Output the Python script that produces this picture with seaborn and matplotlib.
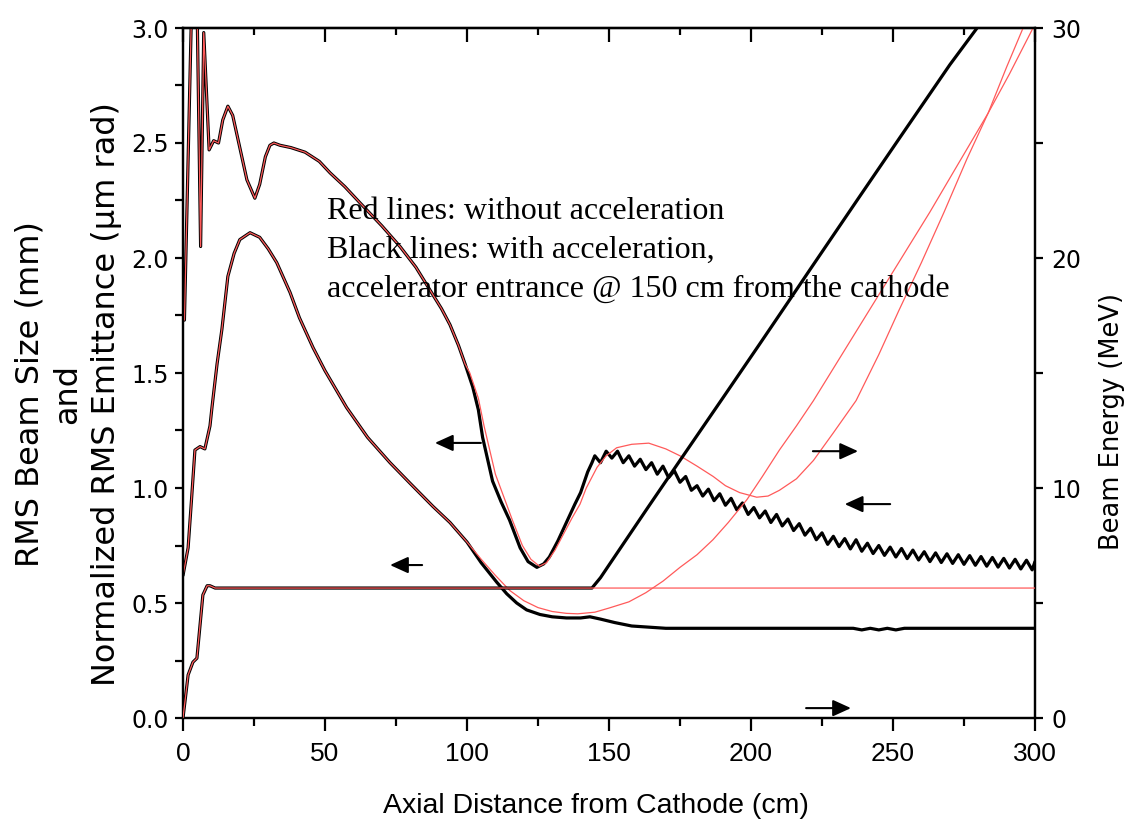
import numpy as np
import pandas as pd
import matplotlib
matplotlib.use("Agg")
import matplotlib.pyplot as plt
from matplotlib.ticker import MultipleLocator, FormatStrFormatter
import seaborn as sns

# ---------------- data ----------------
# shared early part of the emittance (identical with / without acceleration)
em0_x = [0.5, 3.6, 4.6, 6.2, 7.3, 9.2, 10.8, 12.5, 14.0, 15.8, 17.5, 20.0, 22.5,
         25.3, 27.0, 29.0, 30.6, 32.0, 34.2, 38.0, 43.0, 48.0, 51.8, 57.0, 62.3,
         70.0, 76.4, 82.0, 87.0, 91.0, 94.0, 97.0, 99.3]
em0_y = [1.73, 3.4, 3.4, 2.05, 2.98, 2.47, 2.51, 2.50, 2.60, 2.66, 2.62, 2.48, 2.34,
         2.26, 2.32, 2.44, 2.49, 2.50, 2.49, 2.48, 2.46, 2.42, 2.37, 2.31, 2.24,
         2.14, 2.05, 1.96, 1.86, 1.78, 1.71, 1.62, 1.54]

# emittance with acceleration (black)
em_acc_x = [102, 104, 105.5, 109, 112, 115, 118.7, 121.5, 124.6, 127, 129, 132, 135,
            138, 140, 142.5, 144,
            145, 147, 149, 151, 153, 155, 157, 159, 161, 163, 165, 167, 169, 171,
            173, 175, 177, 179, 181, 183, 185, 187, 189, 191, 193, 195, 197, 199,
            201, 203, 205, 207, 209, 211, 213, 215, 217, 219, 221, 223, 225, 227,
            229, 231, 233, 235, 237, 239, 241, 243, 245, 247, 249, 251, 253, 255,
            257, 259, 261, 263, 265, 267, 269, 271, 273, 275, 277, 279, 281, 283,
            285, 287, 289, 291, 293, 295, 297, 299, 300]
em_acc_y = [1.44, 1.34, 1.22, 1.03, 0.94, 0.86, 0.74, 0.68, 0.655, 0.67, 0.70, 0.77, 0.85,
            0.93, 0.98, 1.07, 1.11,
            1.14, 1.11, 1.16, 1.13, 1.16, 1.11, 1.14, 1.095, 1.125, 1.08, 1.11, 1.06,
            1.095, 1.045, 1.075, 1.025, 1.05, 0.99, 1.01, 0.965, 0.995, 0.945, 0.975,
            0.925, 0.955, 0.905, 0.935, 0.885, 0.915, 0.87, 0.90, 0.85, 0.885, 0.835,
            0.865, 0.815, 0.845, 0.795, 0.825, 0.775, 0.805, 0.755, 0.79, 0.745, 0.78,
            0.735, 0.775, 0.725, 0.76, 0.715, 0.75, 0.707, 0.743, 0.70, 0.737, 0.693,
            0.73, 0.687, 0.723, 0.68, 0.718, 0.676, 0.714, 0.672, 0.71, 0.668, 0.706,
            0.664, 0.702, 0.66, 0.698, 0.656, 0.694, 0.652, 0.69, 0.648, 0.686, 0.644,
            0.68]

# emittance without acceleration (red)
em_no_x = [101, 104, 106, 110, 113, 116, 119.5, 122.5, 125.5, 128, 131, 134, 137, 139.8,
           142, 145.8, 149, 152.7, 158, 164, 170, 175, 181, 186.7, 191, 196, 202, 206,
           210, 216, 222, 229, 237, 245, 252, 260, 268, 276, 283.5, 290, 295.8, 298]
em_no_y = [1.50, 1.39, 1.27, 1.06, 0.96, 0.86, 0.75, 0.69, 0.66, 0.675, 0.73, 0.80, 0.87,
           0.93, 1.00, 1.09, 1.14, 1.175, 1.19, 1.195, 1.17, 1.14, 1.095, 1.05, 1.01,
           0.98, 0.96, 0.965, 0.99, 1.04, 1.12, 1.24, 1.38, 1.58, 1.77, 1.98, 2.20, 2.43,
           2.63, 2.83, 3.0, 3.07]

# shared early part of the rms beam size
bs0_x = [0, 1.8, 3.0, 4.2, 6.0, 7.7, 9.5, 10.2, 12.0, 13.7, 15.8, 18.0, 20.0, 23.6,
         27.0, 30.0, 33.0, 37.7, 41.0, 45.8, 50.0, 57.6, 65.0, 72.9, 80.0, 88.0, 94.0,
         100.0]
bs0_y = [0.62, 0.74, 0.95, 1.165, 1.18, 1.17, 1.27, 1.35, 1.54, 1.69, 1.92, 2.02, 2.08,
         2.11, 2.09, 2.04, 1.98, 1.85, 1.74, 1.61, 1.51, 1.35, 1.22, 1.11, 1.02, 0.92, 0.85,
         0.765]

# beam size with acceleration (black)
bs_acc_x = [105, 110.5, 114, 117.5, 121, 125.7, 130, 135, 140, 143.3, 147, 152,
            158, 164, 170, 200, 236, 239, 242, 245, 248, 251, 254, 257, 300]
bs_acc_y = [0.675, 0.59, 0.54, 0.50, 0.47, 0.45, 0.44, 0.435, 0.435, 0.44, 0.43,
            0.415, 0.40, 0.395, 0.39, 0.39, 0.39, 0.383, 0.39, 0.383, 0.39, 0.383, 0.39,
            0.39, 0.39]

# beam size without acceleration (red)
bs_no_x = [105, 110, 115, 120, 125, 130, 135, 139, 145, 150, 157, 163, 169, 175,
           181, 186.6, 192, 198.6, 204, 210, 216, 222, 232, 242, 252, 263, 273, 283.5,
           291, 299.3, 300]
bs_no_y = [0.69, 0.62, 0.555, 0.51, 0.48, 0.463, 0.455, 0.453, 0.46, 0.478,
           0.505, 0.545, 0.595, 0.655, 0.71, 0.775, 0.85, 0.95, 1.05, 1.165, 1.27, 1.38, 1.58,
           1.78, 1.98, 2.20, 2.41, 2.63, 2.80, 3.0, 3.02]

# beam energy (MeV), shared early part
en0_x = [0, 1.8, 3.5, 4.9, 7.0, 8.5, 9.5, 11.3]
en0_y = [0, 1.87, 2.43, 2.6, 5.35, 5.75, 5.75, 5.65]
en_acc_x = [144, 147, 150, 163.4, 175, 190, 203, 213.7, 220.8, 238.4, 252.5, 270, 279.6, 282]
en_acc_y = [5.65, 6.1, 6.65, 9.1, 11.2, 13.9, 16.25, 18.2, 19.5, 22.7, 25.25, 28.4, 30.0, 30.4]
en_no_x = [144, 300]
en_no_y = [5.65, 5.65]

# arrows: (tail_x, head_x, y) in left-axis units
arrows = [(104.9, 88.7, 1.196), (84.2, 72.9, 0.665), (221.8, 237.7, 1.16),
          (249.0, 233.0, 0.93), (219.4, 235.2, 0.043)]

note_lines = ["Red lines: without acceleration",
              "Black lines: with acceleration,",
              "accelerator entrance @ 150 cm from the cathode"]

x_ticks = [0, 50, 100, 150, 200, 250, 300]
y_ticks = [0.0, 0.5, 1.0, 1.5, 2.0, 2.5, 3.0]
e_ticks = [0, 10, 20, 30]

# ---------------- styling ----------------
sns.set_style("ticks")
plt.rcParams['font.family'] = ['Liberation Sans', 'DejaVu Sans']
plt.rcParams.update({"text.color": "black", "axes.labelcolor": "black",
                     "xtick.color": "black", "ytick.color": "black",
                     "axes.edgecolor": "black"})

BLACK = "#000000"
RED = "#ff5a5a"
LW_B = 2.3
LW_R = 0.9

fig = plt.figure(figsize=(11.35, 8.3), dpi=100)
ax = fig.add_axes([183 / 1135, 1 - 718 / 830, 852 / 1135, 690 / 830])
ax2 = ax.twinx()


def draw(axis, xs, ys, color, lw, z):
    df = pd.DataFrame({"x": xs, "y": ys})
    sns.lineplot(data=df, x="x", y="y", ax=axis, color=color, linewidth=lw,
                 estimator=None, sort=False, zorder=z)


# black (with acceleration)
draw(ax, em0_x + em_acc_x, em0_y + em_acc_y, BLACK, LW_B, 2)
draw(ax, bs0_x + bs_acc_x, bs0_y + bs_acc_y, BLACK, LW_B, 2)
draw(ax2, en0_x + en_acc_x, en0_y + en_acc_y, BLACK, LW_B, 2)
# red (without acceleration)
draw(ax, em0_x + em_no_x, em0_y + em_no_y, RED, LW_R, 3)
draw(ax, bs0_x + bs_no_x, bs0_y + bs_no_y, RED, LW_R, 3)
draw(ax2, en0_x + en_no_x, en0_y + en_no_y, RED, LW_R, 3)

ax.set_xlim(0, 300)
ax.set_ylim(0, 3.0)
ax2.set_ylim(0, 30)

for a in (ax, ax2):
    for s in a.spines.values():
        s.set_linewidth(1.6)
        s.set_color("black")
        s.set_visible(True)

# x axis: bottom ticks outward
ax.set_xticks(x_ticks)
ax.xaxis.set_minor_locator(MultipleLocator(25))
ax.tick_params(axis="x", which="major", direction="out", length=9, width=1.6,
               labelsize=19, pad=8, top=False)
ax.tick_params(axis="x", which="minor", direction="out", length=6, width=1.6, top=False)
# top ticks inward
top = ax.secondary_xaxis("top")
top.set_xticks(x_ticks)
top.xaxis.set_minor_locator(MultipleLocator(25))
top.tick_params(axis="x", which="major", direction="in", length=10, width=1.6, labeltop=False)
top.tick_params(axis="x", which="minor", direction="in", length=5, width=1.6)
top.spines["top"].set_linewidth(1.6)

# left y axis
ax.set_yticks(y_ticks)
ax.yaxis.set_major_formatter(FormatStrFormatter("%.1f"))
ax.yaxis.set_minor_locator(MultipleLocator(0.25))
ax.tick_params(axis="y", which="both", direction="out", length=6, width=1.6,
               labelsize=17, pad=4, right=False)
for lab in ax.get_yticklabels():
    lab.set_family(["DejaVu Sans"])

# right y axis
ax2.set_yticks(e_ticks)
ax2.yaxis.set_minor_locator(MultipleLocator(5))
ax2.tick_params(axis="y", which="both", direction="out", length=6, width=1.6,
                labelsize=17, pad=6)
for lab in ax2.get_yticklabels():
    lab.set_family(["DejaVu Sans"])

# axis labels
ax.set_xlabel("Axial Distance from Cathode (cm)", fontsize=20.5)
ax.xaxis.set_label_coords(0.485, -0.108)
ax.set_ylabel("RMS Beam Size (mm)\nand\nNormalized RMS Emittance (\u03bcm rad)",
              fontsize=23, family=["DejaVu Sans"], linespacing=1.3)
ax.yaxis.label.set_va("center")
ax.yaxis.set_label_coords(-0.135, 0.47)
ax2.set_ylabel("Beam Energy (MeV)", fontsize=18.5, family=["DejaVu Sans"], rotation=90)
ax2.yaxis.label.set_va("center")
ax2.yaxis.set_label_coords(1.09, 0.43)

# annotation text
baselines = [2.170, 2.0, 1.83]
for line, yb in zip(note_lines, baselines):
    ax.text(50.7, yb, line, fontsize=23, family=["Liberation Serif", "DejaVu Serif"],
            ha="left", va="baseline", zorder=5, color="black")

# arrows
for tx, hx, yy in arrows:
    ax.annotate("", xy=(hx, yy), xytext=(tx, yy),
                arrowprops=dict(arrowstyle="-|>,head_length=1.1,head_width=0.5",
                                lw=1.5, color="black", shrinkA=0, shrinkB=0,
                                mutation_scale=10), zorder=6)

fig.savefig("out.png", dpi=100)
